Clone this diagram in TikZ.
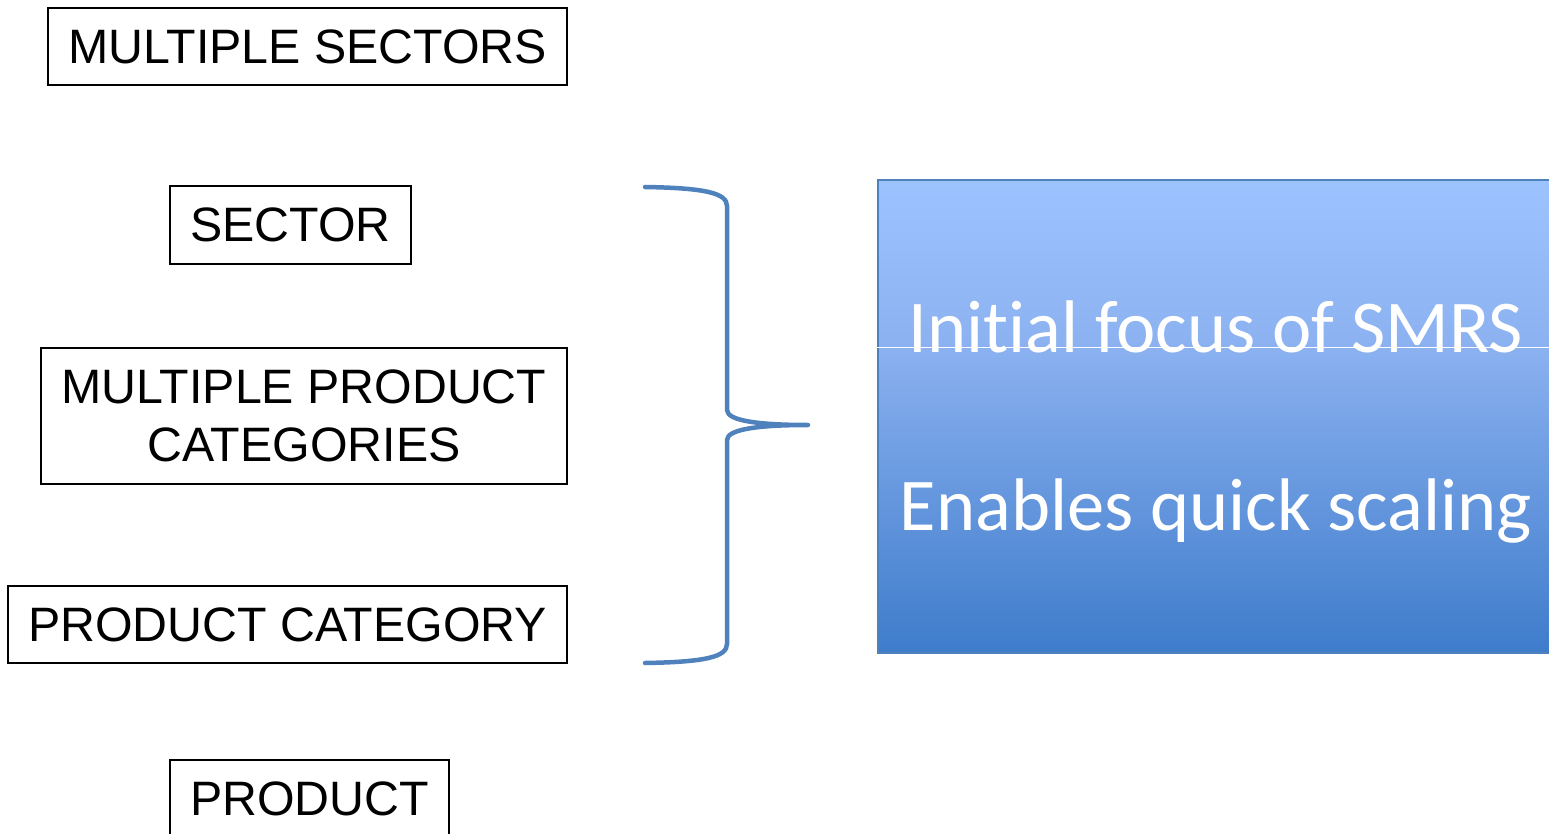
\documentclass[tikz,border=0pt]{standalone}
\usepackage{fontspec}
\setmainfont{Liberation Sans}
\newfontfamily\calibri[Ligatures=NoCommon]{Carlito}
\definecolor{bracecol}{HTML}{4F81BD}
\definecolor{edgeblue}{HTML}{4F81BD}
\definecolor{topblue}{HTML}{9DC3FF}
\definecolor{midblue}{HTML}{8BB1F0}
\definecolor{botblue}{HTML}{3E7CCB}
\pgfdeclareverticalshading{focusgrad}{100bp}{%
  color(0bp)=(botblue); color(25bp)=(botblue);
  color(57.3bp)=(midblue);
  color(75bp)=(topblue); color(100bp)=(topblue)}
\tikzset{
  level/.style={draw=black, line width=1.4pt, inner sep=0pt, align=center,
    font=\fontsize{48.3}{58}\selectfont},
  focuslabel/.style={text=white, inner sep=0pt, anchor=base,
    font=\calibri\fontsize{74.5}{90}\selectfont},
  bracepath/.style={draw=bracecol, line width=4.5pt, line cap=round, line join=round},
}
\begin{document}
\begin{tikzpicture}[x=1pt, y=-1pt]
\useasboundingbox (0,0) rectangle (1549,834);

% hierarchy levels
\node[level, minimum width=519, minimum height=77] (msec) at (307.5,46.5) {MULTIPLE SECTORS};
\node[level, minimum width=241, minimum height=78] (sec) at (290.5,225) {SECTOR};
\node[level, minimum width=526, minimum height=136] (mpc) at (304,416) {MULTIPLE PRODUCT\\CATEGORIES};
\node[level, minimum width=559, minimum height=77] (pcat) at (287.5,624.5) {PRODUCT CATEGORY};
\node[level, minimum width=279, minimum height=78] (prod) at (309.5,799) {PRODUCT};

% gradient panel
\node[draw=edgeblue, line width=1.4pt, shading=focusgrad, inner sep=0pt,
      minimum width=677, minimum height=473] (focus) at (1216.5,416.5) {};
\draw[white, line width=0.8pt] (focus.west |- 0,347) -- (focus.east |- 0,347);
\node[focuslabel] (init) at (1216,352) {Initial focus of SMRS};
\node[focuslabel] (scale) at (1216,530) {Enables quick scaling};

% curly brace
\coordinate (bt) at (645,187);
\coordinate (tip) at (808,425);
\coordinate (bb) at (645,663);
\draw[bracepath] (bt) .. controls (705,188) and (727,193) .. (727,206)
  -- (727,410) .. controls (727,421) and (760,425) .. (tip)
  .. controls (760,425) and (727,429) .. (727,440)
  -- (727,644) .. controls (727,657) and (705,662) .. (bb);
\end{tikzpicture}
\end{document}
